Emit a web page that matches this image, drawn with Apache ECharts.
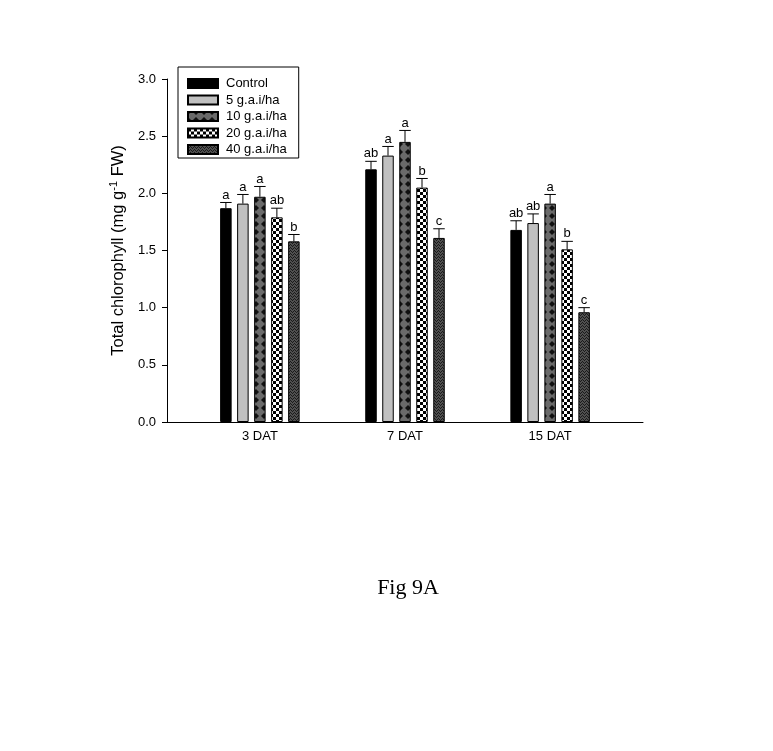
<!DOCTYPE html>
<html>
<head>
<meta charset="utf-8">
<script src="https://cdn.jsdelivr.net/npm/echarts@6/dist/echarts.min.js"></script>
<style>
html,body{margin:0;padding:0;background:#fff;}
#chart{width:773px;height:751px;}
</style>
</head>
<body>
<div id="chart"></div>
<script>
// ---- data ----
var categories = ['3 DAT', '7 DAT', '15 DAT'];
var treatments = ['Control', '5 g.a.i/ha', '10 g.a.i/ha', '20 g.a.i/ha', '40 g.a.i/ha'];
var meanControl = [1.87, 2.21, 1.68];
var meanG5 = [1.91, 2.33, 1.74];
var meanG10 = [1.97, 2.45, 1.91];
var meanG20 = [1.79, 2.05, 1.51];
var meanG40 = [1.58, 1.61, 0.96];
var errControl = [0.05, 0.07, 0.08];
var errG5 = [0.08, 0.08, 0.08];
var errG10 = [0.09, 0.10, 0.08];
var errG20 = [0.08, 0.08, 0.07];
var errG40 = [0.06, 0.08, 0.04];
var lettersControl = ['a', 'ab', 'ab'];
var lettersG5 = ['a', 'a', 'ab'];
var lettersG10 = ['a', 'a', 'a'];
var lettersG20 = ['ab', 'b', 'b'];
var lettersG40 = ['b', 'c', 'c'];
var yTicks = [0, 0.5, 1.0, 1.5, 2.0, 2.5, 3.0];

var means = [meanControl, meanG5, meanG10, meanG20, meanG40];
var errs = [errControl, errG5, errG10, errG20, errG40];
var letters = [lettersControl, lettersG5, lettersG10, lettersG20, lettersG40];

var FONT = '"Liberation Sans", Arial, sans-serif';

// ---- patterns ----
function makeTile(w, h, draw) {
  var c = document.createElement('canvas');
  c.width = w; c.height = h;
  var ctx = c.getContext('2d');
  draw(ctx);
  return {image: c, repeat: 'repeat'};
}
var patDiamond = makeTile(8, 8, function (ctx) {
  ctx.fillStyle = '#6a6a6a'; ctx.fillRect(0, 0, 8, 8);
  ctx.fillStyle = '#111';
  var pts = [[0,0],[8,0],[0,8],[8,8]];
  pts.forEach(function (p) {
    ctx.beginPath();
    ctx.moveTo(p[0], p[1] - 3); ctx.lineTo(p[0] + 3, p[1]);
    ctx.lineTo(p[0], p[1] + 3); ctx.lineTo(p[0] - 3, p[1]); ctx.closePath();
    ctx.fill();
  });
});
var patChecker = makeTile(6, 6, function (ctx) {
  ctx.fillStyle = '#fff'; ctx.fillRect(0, 0, 6, 6);
  ctx.fillStyle = '#000'; ctx.fillRect(0, 0, 3, 3); ctx.fillRect(3, 3, 3, 3);
});
var patDots = makeTile(4, 3, function (ctx) {
  ctx.fillStyle = '#505050'; ctx.fillRect(0, 0, 4, 3);
  ctx.fillStyle = '#1a1a1a'; ctx.fillRect(0, 0, 1, 1); ctx.fillRect(2, 1, 1, 1); ctx.fillRect(1, 2, 1, 1); ctx.fillRect(3, 2, 1, 1);
});
var fills = ['#000000', '#c0c0c0', patDiamond, patChecker, patDots];

// ---- layout ----
var BAR_W = 11.5;
var BAR_PITCH = 17;

var series = [];
treatments.forEach(function (name, k) {
  series.push({
    name: name,
    type: 'bar',
    barWidth: BAR_W,
    barGap: ((BAR_PITCH - BAR_W) / BAR_W * 100) + '%',
    itemStyle: {color: fills[k], borderColor: '#000', borderWidth: 1},
    emphasis: {disabled: true},
    data: categories.map(function (c, i) { return [i, means[k][i]]; })
  });
});
treatments.forEach(function (name, k) {
  series.push({
    type: 'custom',
    silent: true,
    z: 5,
    data: categories.map(function (c, i) { return [i, means[k][i], errs[k][i]]; }),
    renderItem: function (params, api) {
      var x = api.value(0), m = api.value(1), e = api.value(2);
      var lab = letters[k][params.dataIndex];
      var base = api.coord([x, m]);
      var top = api.coord([x, m + e]);
      var cx = base[0] + (k - 2) * BAR_PITCH;
      var hw = BAR_W / 2;
      return {
        type: 'group',
        children: [
          {type: 'line', shape: {x1: cx, y1: base[1], x2: cx, y2: top[1]}, style: {stroke: '#000', lineWidth: 1}},
          {type: 'line', shape: {x1: cx - hw, y1: top[1], x2: cx + hw, y2: top[1]}, style: {stroke: '#000', lineWidth: 1}},
          {type: 'text', x: cx, y: top[1] - 1, style: {text: lab, fill: '#000', font: '13px ' + FONT, align: 'center', verticalAlign: 'bottom'}}
        ]
      };
    }
  });
});

var chart = echarts.init(document.getElementById('chart'), null, {renderer: 'canvas'});
chart.setOption({
  backgroundColor: '#fff',
  animation: false,
  title: {
    text: 'Fig 9A',
    left: 403, top: 572, textAlign: 'center',
    textStyle: {fontFamily: '"Liberation Serif", "Times New Roman", serif', fontSize: 22, fontWeight: 'normal', color: '#000'}
  },
  legend: {
    orient: 'vertical',
    left: 178, top: 67,
    padding: [10, 12, 2, 9],
    borderColor: '#000', borderWidth: 1,
    itemWidth: 30, itemHeight: 9, itemGap: 3.5,
    icon: 'rect',
    z: 10,
    data: treatments,
    textStyle: {fontFamily: FONT, fontSize: 13, color: '#000', padding: [0, 0, 0, 3]}
  },
  grid: {left: 167, right: 130, top: 79, bottom: 329, containLabel: false},
  xAxis: {
    type: 'value',
    min: -0.64, max: 2.64,
    splitLine: {show: false},
    axisLine: {show: true, onZero: false, lineStyle: {color: '#000', width: 1}},
    axisTick: {show: false},
    axisLabel: {
      customValues: [0, 1, 2],
      margin: 8,
      color: '#000', fontSize: 13, fontFamily: FONT,
      formatter: function (v) { return categories[Math.round(v)] || ''; }
    }
  },
  yAxis: {
    type: 'value',
    min: yTicks[0], max: yTicks[yTicks.length - 1], interval: 0.5,
    splitLine: {show: false},
    axisLine: {show: true, onZero: false, lineStyle: {color: '#000', width: 1}},
    axisTick: {show: true, inside: false, length: 5, lineStyle: {color: '#000'}},
    axisLabel: {margin: 11, color: '#000', fontSize: 13, fontFamily: FONT,
      formatter: function (v) { return v.toFixed(1); }},
    name: '{n|Total chlorophyll (mg g}{s|-1}{n| FW)}',
    nameLocation: 'middle',
    nameGap: 40,
    nameRotate: 90,
    nameTextStyle: {
      fontFamily: FONT, color: '#000',
      rich: {
        n: {fontSize: 16.5, color: '#000', fontFamily: FONT, lineHeight: 19, verticalAlign: 'bottom'},
        s: {fontSize: 11, color: '#000', fontFamily: FONT, lineHeight: 19, verticalAlign: 'top'}
      }
    }
  },
  series: series
});
</script>
</body>
</html>
